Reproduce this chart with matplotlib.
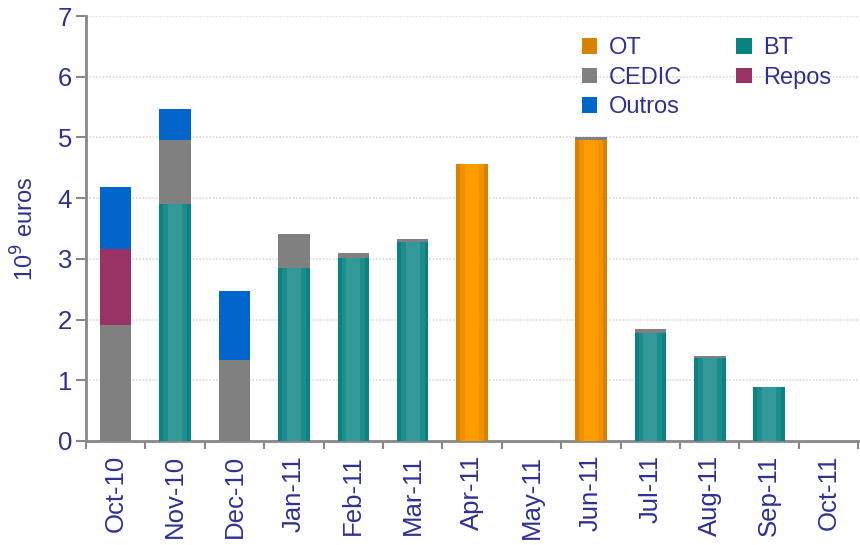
import matplotlib
matplotlib.use("Agg")
import matplotlib.pyplot as plt
import numpy as np

months = ["Oct-10", "Nov-10", "Dec-10", "Jan-11", "Feb-11", "Mar-11", "Apr-11",
          "May-11", "Jun-11", "Jul-11", "Aug-11", "Sep-11", "Oct-11"]
OT     = [0.00, 0.00, 0.00, 0.00, 0.00, 0.00, 4.56, 0.00, 4.96, 0.00, 0.00, 0.00, 0.00]
BT     = [0.00, 3.90, 0.00, 2.85, 3.01, 3.28, 0.00, 0.00, 0.00, 1.78, 1.36, 0.88, 0.00]
CEDIC  = [1.91, 1.06, 1.33, 0.56, 0.09, 0.05, 0.00, 0.00, 0.05, 0.07, 0.04, 0.00, 0.00]
Repos  = [1.25, 0.00, 0.00, 0.00, 0.00, 0.00, 0.00, 0.00, 0.00, 0.00, 0.00, 0.00, 0.00]
Outros = [1.02, 0.51, 1.14, 0.00, 0.00, 0.00, 0.00, 0.00, 0.00, 0.00, 0.00, 0.00, 0.00]

TXT = "#2E3192"
plt.rcParams['font.family'] = ['Liberation Sans', 'DejaVu Sans']

fig = plt.figure(figsize=(8.6, 5.45), dpi=100)
ax = fig.add_axes([0.1, 0.191, 0.898, 0.7796])

x = np.arange(len(months))
w = 0.53
ot = np.array(OT); bt = np.array(BT); ce = np.array(CEDIC); rp = np.array(Repos); ou = np.array(Outros)

def shaded(vals, bottom, edge, mid, light, label):
    h = ax.bar(x, vals, w, bottom=bottom, color=edge, label=label, zorder=3)
    ax.bar(x, vals, w * 0.75, bottom=bottom, color=mid, zorder=4)
    ax.bar(x, vals, w * 0.45, bottom=bottom, color=light, zorder=5)
    return h

b = np.zeros(len(x))
h_ot = shaded(ot, b, "#D98200", "#F29100", "#FF9C00", "OT")
b = b + ot
h_bt = shaded(bt, b, "#0A8282", "#1D8C8C", "#329898", "BT")
b = b + bt
h_ce = ax.bar(x, ce, w, bottom=b, color="#808080", label="CEDIC", zorder=3)
b = b + ce
h_rp = ax.bar(x, rp, w, bottom=b, color="#993366", label="Repos", zorder=3)
b = b + rp
h_ou = ax.bar(x, ou, w, bottom=b, color="#0066CC", label="Outros", zorder=3)

ax.set_xlim(-0.5, len(x) - 0.5)
ax.set_ylim(0, 7)
ax.set_yticks(range(0, 8))
ax.yaxis.grid(True, color="#D9D9D9", linestyle=(0, (1, 1)), linewidth=1.2, zorder=0)
ax.set_axisbelow(True)

ax.set_xticks(x)
ax.set_xticklabels(months, rotation=90)
ax.set_xticks(np.arange(-0.5, len(x) + 0.5, 1), minor=True)
ax.tick_params(axis='x', which='major', length=0, pad=10, labelsize=18.5, labelcolor=TXT)
ax.tick_params(axis='x', which='minor', length=6, width=1.5, color="#888888")
ax.tick_params(axis='y', length=7, width=1.5, color="#888888", labelsize=18.5, labelcolor=TXT, pad=3)

for s in ["top", "right"]:
    ax.spines[s].set_visible(False)
for s in ["left", "bottom"]:
    ax.spines[s].set_color("#888888")
    ax.spines[s].set_linewidth(2)

ax.set_ylabel("10$^9$ euros", fontsize=17, color=TXT, labelpad=14)

handles = [h_ot, h_ce, h_ou, h_bt, h_rp]
leg = ax.legend(handles, [h.get_label() for h in handles], ncol=2, loc="upper right",
                bbox_to_anchor=(0.993, 1.0), frameon=False, fontsize=17,
                handlelength=0.65, handleheight=0.65, handletextpad=0.5,
                columnspacing=2.3, labelspacing=0.32, labelcolor=TXT)

fig.savefig("out.png", dpi=100)
